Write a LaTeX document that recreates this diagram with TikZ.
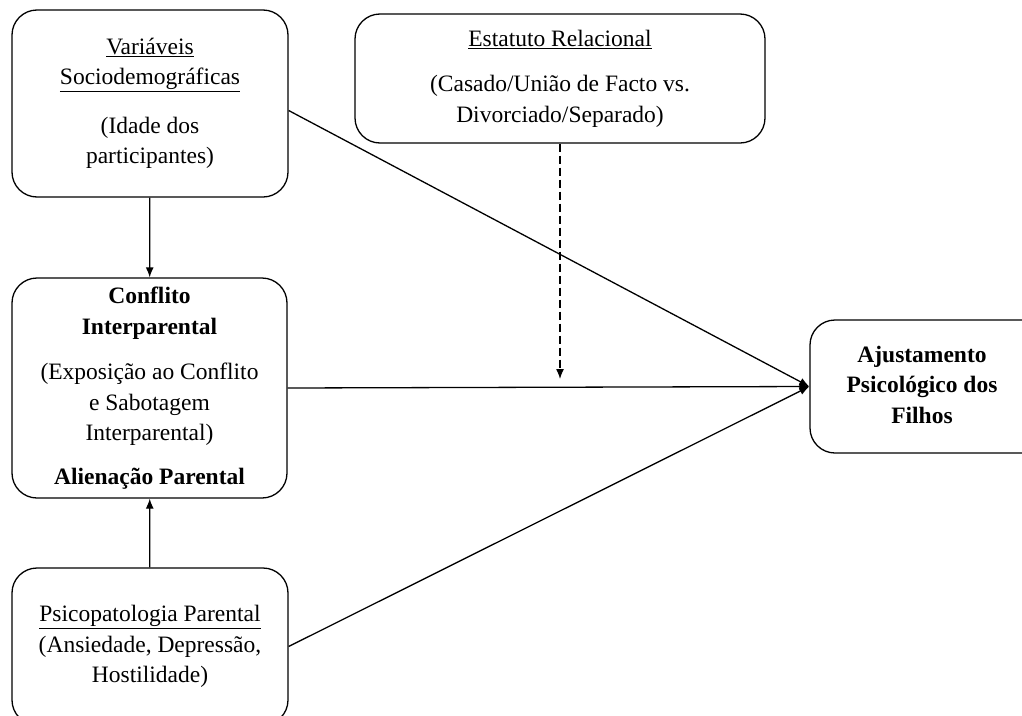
\documentclass[tikz,border=0pt]{standalone}
\usepackage{fontspec}
\setmainfont{Liberation Serif}
\usetikzlibrary{arrows.meta}
\tikzstyle{every node}=[font=\fontsize{23.5}{30.5}\selectfont]
\tikzstyle{caixa}=[draw=black,line width=1.3pt,rounded corners=25pt,align=center,inner sep=0pt]
\tikzstyle{seta}=[line width=1.3pt,-{Latex[length=10pt,width=8pt]}]

\begin{document}
\begin{tikzpicture}[x=1pt,y=-1pt]
    \useasboundingbox (0,0) rectangle (1022,715);
    \node[caixa,minimum width=276pt,minimum height=187pt] (socio) at (150,103.5)
        {\underline{Variáveis}\\\underline{Sociodemográficas}\\[18pt](Idade dos\\participantes)};
    \node[caixa,minimum width=410pt,minimum height=129pt] (estatuto) at (560,78.5)
        {\underline{Estatuto Relacional}\\[15pt](Casado/União de Facto vs.\\Divorciado/Separado)};
    \node[caixa,minimum width=275pt,minimum height=220pt] (conflito) at (149.5,388)
        {\textbf{Conflito}\\\textbf{Interparental}\\[15pt](Exposição ao Conflito\\e Sabotagem\\Interparental)\\[13pt]\textbf{Alienação Parental}};
    \node[caixa,minimum width=276pt,minimum height=157pt] (psico) at (150,646.5)
        {\underline{Psicopatologia Parental}\\(Ansiedade, Depressão,\\Hostilidade)};
    \node[caixa,minimum width=250pt,minimum height=133pt] (ajust) at (935,386.5)
        {\begin{tabular}{@{}c@{}}\textbf{Ajustamento}\\\textbf{Psicológico dos}\\\textbf{Filhos}\end{tabular}\hspace*{26pt}};
    \coordinate (mod) at ([yshift=9pt]estatuto.south |- conflito.east);
    \draw[seta] (socio) -- (conflito);
    \draw[seta] (psico) -- (conflito);
    \draw[seta] ([yshift=-7pt]socio.east) -- (ajust.west);
    \draw[seta] (conflito.east) -- (ajust.west);
    \draw[seta] (psico.east) -- (ajust.west);
    \draw[seta,dash pattern=on 8pt off 4pt] (estatuto) -- (mod);
\end{tikzpicture}
\end{document}
